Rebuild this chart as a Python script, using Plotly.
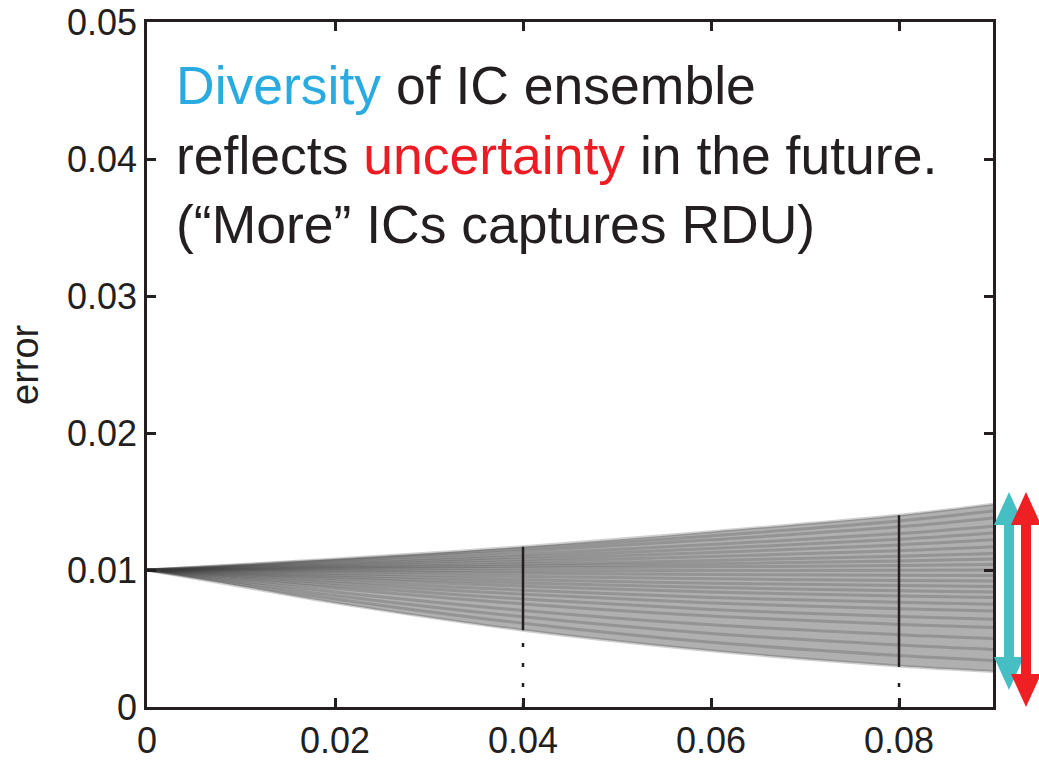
import plotly.graph_objects as go

# ---------------- data ----------------
x_grid = [0.0, 0.01, 0.02, 0.04, 0.06, 0.08, 0.09]

ensemble = [
    [0.0100, 0.01040, 0.01080, 0.01170, 0.01280, 0.01400, 0.0148],
    [0.0100, 0.01037, 0.01073, 0.01155, 0.01249, 0.01357, 0.0143],
    [0.0100, 0.01032, 0.01065, 0.01137, 0.01220, 0.01315, 0.0138],
    [0.0100, 0.01027, 0.01054, 0.01115, 0.01186, 0.01266, 0.0132],
    [0.0100, 0.01023, 0.01046, 0.01097, 0.01157, 0.01224, 0.0127],
    [0.0100, 0.01019, 0.01037, 0.01079, 0.01128, 0.01183, 0.0122],
    [0.0100, 0.01014, 0.01029, 0.01061, 0.01099, 0.01141, 0.0117],
    [0.0100, 0.01010, 0.01020, 0.01043, 0.01070, 0.01100, 0.0112],
    [0.0100, 0.01007, 0.01014, 0.01029, 0.01046, 0.01066, 0.0108],
    [0.0100, 0.01003, 0.01007, 0.01014, 0.01023, 0.01033, 0.0104],
    [0.0100, 0.00999, 0.00997, 0.00995, 0.00996, 0.00998, 0.0100],
    [0.0100, 0.00994, 0.00987, 0.00976, 0.00968, 0.00962, 0.0096],
    [0.0100, 0.00987, 0.00974, 0.00953, 0.00936, 0.00924, 0.0092],
    [0.0100, 0.00981, 0.00962, 0.00929, 0.00904, 0.00887, 0.0088],
    [0.0100, 0.00974, 0.00949, 0.00906, 0.00872, 0.00849, 0.0084],
    [0.0100, 0.00968, 0.00936, 0.00882, 0.00840, 0.00811, 0.0080],
    [0.0100, 0.00960, 0.00920, 0.00853, 0.00800, 0.00764, 0.0075],
    [0.0100, 0.00952, 0.00904, 0.00823, 0.00760, 0.00717, 0.0070],
    [0.0100, 0.00942, 0.00885, 0.00788, 0.00712, 0.00660, 0.0064],
    [0.0100, 0.00933, 0.00866, 0.00752, 0.00664, 0.00603, 0.0058],
    [0.0100, 0.00920, 0.00840, 0.00705, 0.00600, 0.00528, 0.0050],
    [0.0100, 0.00907, 0.00814, 0.00658, 0.00536, 0.00452, 0.0042],
    [0.0100, 0.00894, 0.00789, 0.00611, 0.00472, 0.00376, 0.0034],
    [0.0100, 0.00880, 0.00760, 0.00560, 0.00410, 0.00300, 0.0026],
]

marker_times = [0.04, 0.08]

x_ticks = [0, 0.02, 0.04, 0.06, 0.08]
x_ticklabels = ["0", "0.02", "0.04", "0.06", "0.08"]
y_ticks = [0, 0.01, 0.02, 0.03, 0.04, 0.05]
y_ticklabels = ["0", "0.01", "0.02", "0.03", "0.04", "0.05"]

# arrows: [top, bottom] in error units
diversity_arrow = [0.0157, 0.00124]
uncertainty_arrow = [0.0157, 0.0]

X_RANGE = [0, 0.09]
Y_RANGE = [0, 0.05]

INK = "#231F20"
CYAN = "#45BFC4"
RED = "#EE2024"
FONT = "Liberation Sans, Arial, sans-serif"

fig = go.Figure()

# envelope of the ensemble (light gray body of the fan)
fig.add_trace(go.Scatter(x=x_grid, y=ensemble[0], mode="lines",
                         line_shape="spline", line=dict(width=0),
                         hoverinfo="skip", showlegend=False))
fig.add_trace(go.Scatter(x=x_grid, y=ensemble[-1], mode="lines",
                         line_shape="spline", line=dict(width=0),
                         fill="tonexty", fillcolor="rgb(176,176,176)",
                         hoverinfo="skip", showlegend=False))

for k, vals in enumerate(ensemble):
    fig.add_trace(go.Scatter(
        x=x_grid, y=vals, mode="lines", line_shape="spline",
        line=dict(color="rgba(60,60,60,0.24)", width=3),
        hoverinfo="skip", showlegend=False))

# vertical markers
for t in marker_times:
    i = x_grid.index(t)
    col = [v[i] for v in ensemble]
    lo, hi = min(col), max(col)
    fig.add_trace(go.Scatter(x=[t, t], y=[lo, hi], mode="lines",
                             line=dict(color=INK, width=2.5),
                             hoverinfo="skip", showlegend=False))
    fig.add_trace(go.Scatter(x=[t, t], y=[0, lo], mode="lines",
                             line=dict(color=INK, width=2.5, dash="4px,16px"),
                             hoverinfo="skip", showlegend=False))

# plot geometry (pixels)
W, H = 1039, 762
ML, MR, MT, MB = 147, 46, 22, 55
PW = W - ML - MR
PH = H - MT - MB


def arrow_path(cx_px, top, bottom, shaft=10, head_w=30, head_l=33):
    def px(dx):
        return 1 + (cx_px - (ML + PW) + dx) / PW
    yt = top / Y_RANGE[1]
    yb = bottom / Y_RANGE[1]
    hl = head_l / PH
    pts = [
        (px(0), yt),
        (px(head_w / 2), yt - hl),
        (px(shaft / 2), yt - hl),
        (px(shaft / 2), yb + hl),
        (px(head_w / 2), yb + hl),
        (px(0), yb),
        (px(-head_w / 2), yb + hl),
        (px(-shaft / 2), yb + hl),
        (px(-shaft / 2), yt - hl),
        (px(-head_w / 2), yt - hl),
    ]
    return "M " + " L ".join(f"{a:.5f},{b:.5f}" for a, b in pts) + " Z"


fig.add_shape(type="path", xref="paper", yref="paper",
              path=arrow_path(1009, *diversity_arrow),
              fillcolor=CYAN, line=dict(width=0))
fig.add_shape(type="path", xref="paper", yref="paper",
              path=arrow_path(1026, *uncertainty_arrow),
              fillcolor=RED, line=dict(width=0))

text = ("<span style='color:#29ABE2'>Diversity</span> of IC ensemble<br>"
        "reflects <span style='color:#ED1C24'>uncertainty</span> in the future.<br>"
        "(“More” ICs captures RDU)")
fig.add_annotation(text=text, xref="paper", yref="paper",
                   x=(174 - ML) / PW, y=(H - MB - 54) / PH,
                   xanchor="left", yanchor="top", align="left",
                   showarrow=False, font=dict(family=FONT, size=53.5, color=INK))

fig.add_annotation(text="error", xref="paper", yref="paper",
                   x=(25 - ML) / PW, y=(H - MB - 364) / PH,
                   xanchor="center", yanchor="middle", textangle=-90,
                   showarrow=False, font=dict(family=FONT, size=38, color=INK))

axis_common = dict(showgrid=False, zeroline=False, showline=True,
                   linecolor=INK, linewidth=2.5, mirror="ticks",
                   ticks="inside", ticklen=9, tickwidth=2.5, tickcolor=INK,
                   automargin=False,
                   tickfont=dict(family=FONT, size=36, color=INK))

fig.update_xaxes(range=X_RANGE, tickvals=x_ticks, ticktext=x_ticklabels,
                 **axis_common)
fig.update_yaxes(range=Y_RANGE, tickvals=y_ticks, ticktext=y_ticklabels,
                 **axis_common)

fig.update_layout(width=W, height=H,
                  margin=dict(l=ML, r=MR, t=MT, b=MB),
                  plot_bgcolor="white", paper_bgcolor="white",
                  showlegend=False)

fig.write_html("out.html", config={"displayModeBar": False},
               post_script="document.body.style.margin='0';")
